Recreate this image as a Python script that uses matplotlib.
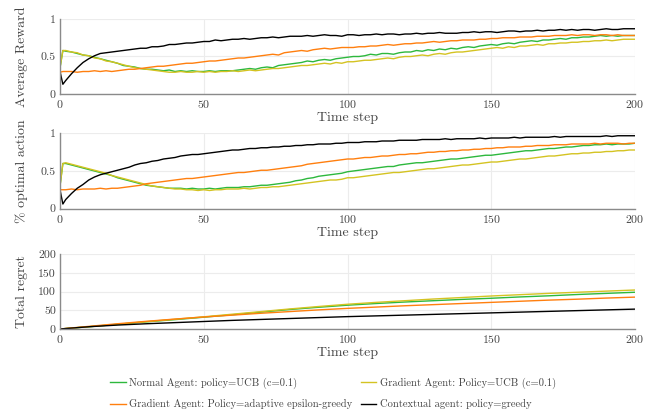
"""
plot.py
=======

Bandit agents over 200 time steps: average reward, fraction of optimal
actions and cumulative regret, one panel each, shared legend underneath.

Output: out.png (655x419)
"""

import matplotlib
matplotlib.use("Agg")
import matplotlib.pyplot as plt


# Time axis: first step kept, then every second step
TIME = [0, 1] + list(range(2, 201, 2))

# ---------------------------------------------------------------------------
# Panel 1 — average reward
# ---------------------------------------------------------------------------
REWARD_NORMAL_UCB = [
    0.35, 0.58,
    0.57, 0.56, 0.54, 0.52, 0.51, 0.49, 0.47, 0.45, 0.43, 0.41,
    0.38, 0.37, 0.36, 0.34, 0.33, 0.33, 0.32, 0.31, 0.32, 0.30,
    0.31, 0.30, 0.31, 0.30, 0.30, 0.31, 0.30, 0.31, 0.31, 0.31,
    0.32, 0.33, 0.34, 0.33, 0.35, 0.36, 0.35, 0.38, 0.39, 0.40,
    0.41, 0.42, 0.44, 0.43, 0.45, 0.46, 0.45, 0.47, 0.48, 0.49,
    0.50, 0.50, 0.51, 0.53, 0.52, 0.54, 0.54, 0.53, 0.55, 0.56,
    0.56, 0.58, 0.57, 0.59, 0.58, 0.60, 0.59, 0.61, 0.60, 0.62,
    0.63, 0.62, 0.64, 0.65, 0.66, 0.65, 0.67, 0.68, 0.67, 0.69,
    0.70, 0.71, 0.70, 0.72, 0.72, 0.73, 0.74, 0.73, 0.75, 0.75,
    0.76, 0.76, 0.77, 0.78, 0.77, 0.78, 0.77, 0.78, 0.78, 0.78,
]
REWARD_GRADIENT_UCB = [
    0.35, 0.58,
    0.58, 0.56, 0.55, 0.52, 0.51, 0.48, 0.47, 0.44, 0.43, 0.41,
    0.39, 0.37, 0.35, 0.34, 0.33, 0.32, 0.31, 0.30, 0.29, 0.29,
    0.30, 0.29, 0.29, 0.30, 0.29, 0.30, 0.29, 0.30, 0.30, 0.31,
    0.30, 0.31, 0.32, 0.31, 0.32, 0.33, 0.34, 0.34, 0.35, 0.36,
    0.37, 0.38, 0.38, 0.39, 0.40, 0.41, 0.40, 0.42, 0.41, 0.43,
    0.43, 0.44, 0.45, 0.45, 0.46, 0.47, 0.48, 0.47, 0.49, 0.50,
    0.50, 0.51, 0.52, 0.51, 0.53, 0.54, 0.53, 0.55, 0.56, 0.56,
    0.57, 0.58, 0.59, 0.60, 0.61, 0.62, 0.61, 0.63, 0.62, 0.64,
    0.64, 0.65, 0.66, 0.65, 0.67, 0.67, 0.68, 0.68, 0.69, 0.69,
    0.70, 0.70, 0.71, 0.71, 0.72, 0.71, 0.72, 0.73, 0.73, 0.73,
]
REWARD_GRADIENT_ADAPTIVE = [
    0.29, 0.30,
    0.30, 0.30, 0.29, 0.30, 0.30, 0.31, 0.30, 0.31, 0.30, 0.31,
    0.32, 0.33, 0.33, 0.34, 0.35, 0.36, 0.37, 0.37, 0.38, 0.39,
    0.40, 0.41, 0.41, 0.42, 0.43, 0.44, 0.44, 0.45, 0.46, 0.47,
    0.48, 0.48, 0.49, 0.50, 0.51, 0.52, 0.53, 0.52, 0.55, 0.56,
    0.57, 0.58, 0.57, 0.59, 0.60, 0.61, 0.60, 0.61, 0.62, 0.62,
    0.62, 0.63, 0.63, 0.64, 0.64, 0.65, 0.66, 0.65, 0.66, 0.67,
    0.67, 0.68, 0.68, 0.69, 0.70, 0.69, 0.70, 0.71, 0.71, 0.72,
    0.72, 0.72, 0.73, 0.73, 0.74, 0.74, 0.75, 0.75, 0.75, 0.76,
    0.76, 0.76, 0.77, 0.77, 0.77, 0.78, 0.78, 0.78, 0.79, 0.78,
    0.79, 0.79, 0.78, 0.79, 0.79, 0.78, 0.79, 0.78, 0.78, 0.78,
]
REWARD_CONTEXTUAL = [
    0.30, 0.13,
    0.18, 0.27, 0.35, 0.42, 0.47, 0.51, 0.54, 0.55, 0.56, 0.57,
    0.58, 0.59, 0.60, 0.61, 0.61, 0.63, 0.63, 0.64, 0.66, 0.66,
    0.67, 0.68, 0.68, 0.69, 0.70, 0.70, 0.72, 0.71, 0.72, 0.73,
    0.73, 0.74, 0.73, 0.74, 0.75, 0.75, 0.76, 0.75, 0.76, 0.77,
    0.77, 0.77, 0.78, 0.77, 0.78, 0.79, 0.78, 0.78, 0.77, 0.79,
    0.79, 0.78, 0.79, 0.79, 0.80, 0.79, 0.80, 0.80, 0.79, 0.80,
    0.80, 0.81, 0.80, 0.81, 0.81, 0.82, 0.81, 0.81, 0.81, 0.82,
    0.82, 0.83, 0.82, 0.83, 0.83, 0.82, 0.83, 0.84, 0.84, 0.83,
    0.84, 0.84, 0.85, 0.84, 0.85, 0.85, 0.86, 0.85, 0.86, 0.85,
    0.86, 0.86, 0.85, 0.86, 0.87, 0.86, 0.86, 0.87, 0.87, 0.87,
]

# ---------------------------------------------------------------------------
# Panel 2 — fraction of optimal actions
# ---------------------------------------------------------------------------
OPTIMAL_NORMAL_UCB = [
    0.30, 0.60,
    0.60, 0.58, 0.56, 0.54, 0.52, 0.50, 0.48, 0.46, 0.44, 0.41,
    0.39, 0.37, 0.35, 0.33, 0.31, 0.30, 0.29, 0.28, 0.27, 0.27,
    0.27, 0.26, 0.27, 0.26, 0.26, 0.27, 0.26, 0.27, 0.28, 0.28,
    0.28, 0.29, 0.29, 0.30, 0.31, 0.31, 0.32, 0.33, 0.34, 0.35,
    0.37, 0.38, 0.40, 0.41, 0.43, 0.44, 0.45, 0.46, 0.47, 0.49,
    0.50, 0.51, 0.52, 0.53, 0.54, 0.55, 0.56, 0.56, 0.58, 0.59,
    0.60, 0.61, 0.61, 0.62, 0.63, 0.64, 0.65, 0.66, 0.66, 0.67,
    0.68, 0.69, 0.70, 0.71, 0.71, 0.72, 0.73, 0.74, 0.75, 0.76,
    0.77, 0.77, 0.78, 0.79, 0.80, 0.80, 0.81, 0.82, 0.82, 0.83,
    0.84, 0.84, 0.85, 0.85, 0.86, 0.85, 0.86, 0.86, 0.86, 0.87,
]
OPTIMAL_GRADIENT_UCB = [
    0.30, 0.60,
    0.61, 0.59, 0.57, 0.55, 0.53, 0.51, 0.49, 0.47, 0.44, 0.42,
    0.40, 0.38, 0.36, 0.34, 0.32, 0.30, 0.29, 0.28, 0.27, 0.26,
    0.26, 0.25, 0.25, 0.24, 0.25, 0.24, 0.25, 0.25, 0.26, 0.26,
    0.26, 0.27, 0.26, 0.27, 0.28, 0.28, 0.29, 0.29, 0.30, 0.31,
    0.32, 0.33, 0.34, 0.35, 0.36, 0.37, 0.38, 0.38, 0.39, 0.41,
    0.41, 0.42, 0.43, 0.44, 0.45, 0.46, 0.47, 0.48, 0.48, 0.49,
    0.50, 0.51, 0.52, 0.53, 0.53, 0.54, 0.55, 0.56, 0.57, 0.58,
    0.58, 0.59, 0.60, 0.61, 0.62, 0.62, 0.63, 0.64, 0.65, 0.66,
    0.66, 0.67, 0.68, 0.69, 0.70, 0.70, 0.71, 0.72, 0.73, 0.73,
    0.74, 0.74, 0.75, 0.75, 0.76, 0.76, 0.77, 0.77, 0.78, 0.78,
]
OPTIMAL_GRADIENT_ADAPTIVE = [
    0.25, 0.25,
    0.25, 0.26, 0.25, 0.26, 0.26, 0.26, 0.27, 0.26, 0.27, 0.27,
    0.28, 0.29, 0.30, 0.31, 0.33, 0.34, 0.35, 0.36, 0.37, 0.38,
    0.39, 0.40, 0.40, 0.41, 0.42, 0.43, 0.44, 0.45, 0.46, 0.47,
    0.48, 0.48, 0.49, 0.50, 0.51, 0.51, 0.52, 0.53, 0.54, 0.55,
    0.56, 0.57, 0.59, 0.60, 0.61, 0.62, 0.63, 0.64, 0.65, 0.66,
    0.66, 0.67, 0.68, 0.68, 0.69, 0.70, 0.70, 0.71, 0.72, 0.72,
    0.73, 0.73, 0.74, 0.75, 0.75, 0.76, 0.76, 0.77, 0.77, 0.78,
    0.78, 0.79, 0.79, 0.80, 0.80, 0.81, 0.81, 0.82, 0.82, 0.82,
    0.83, 0.83, 0.84, 0.84, 0.84, 0.85, 0.85, 0.85, 0.86, 0.86,
    0.86, 0.86, 0.87, 0.86, 0.87, 0.87, 0.87, 0.86, 0.87, 0.87,
]
OPTIMAL_CONTEXTUAL = [
    0.25, 0.06,
    0.12, 0.20, 0.27, 0.32, 0.38, 0.42, 0.45, 0.47, 0.49, 0.51,
    0.53, 0.55, 0.58, 0.60, 0.61, 0.63, 0.64, 0.66, 0.67, 0.68,
    0.70, 0.71, 0.72, 0.72, 0.73, 0.74, 0.75, 0.76, 0.77, 0.78,
    0.78, 0.79, 0.80, 0.80, 0.81, 0.81, 0.82, 0.82, 0.83, 0.83,
    0.84, 0.84, 0.85, 0.85, 0.86, 0.86, 0.86, 0.87, 0.87, 0.88,
    0.88, 0.88, 0.89, 0.89, 0.89, 0.90, 0.90, 0.90, 0.91, 0.91,
    0.91, 0.91, 0.92, 0.92, 0.92, 0.92, 0.93, 0.92, 0.93, 0.93,
    0.93, 0.93, 0.94, 0.93, 0.94, 0.94, 0.94, 0.94, 0.95, 0.94,
    0.95, 0.95, 0.95, 0.95, 0.95, 0.96, 0.95, 0.96, 0.96, 0.96,
    0.96, 0.96, 0.96, 0.96, 0.97, 0.96, 0.97, 0.97, 0.97, 0.97,
]

# ---------------------------------------------------------------------------
# Panel 3 — cumulative regret, read every 10 steps
# ---------------------------------------------------------------------------
REGRET_TIME = list(range(0, 201, 10))
REGRET_NORMAL_UCB = [0, 6, 12.5, 19, 25, 31.5, 38, 45, 52, 58, 63.5,
                     68, 72, 75.5, 79, 82, 85.5, 88.5, 92, 95, 98]
REGRET_GRADIENT_UCB = [0, 6, 12.5, 19.5, 26, 32.5, 39.5, 46.5, 53.5, 60, 66,
                       71, 75.5, 80, 84, 88, 91.5, 95, 98, 101, 104]
REGRET_GRADIENT_ADAPTIVE = [0, 7, 14, 20.5, 26.5, 32, 37, 42, 46.5, 51, 55,
                            58.5, 62, 65, 68, 71, 74, 77, 79.5, 82.5, 85]
REGRET_CONTEXTUAL = [0, 6, 10.5, 14, 17, 20, 23, 25.5, 28, 30.5, 33,
                     35, 37, 39, 41, 43, 45, 47, 49, 51, 53]

LABELS = [
    "Normal Agent: policy=UCB (c=0.1)",
    "Gradient Agent: Policy=adaptive epsilon-greedy",
    "Gradient Agent: Policy=UCB (c=0.1)",
    "Contextual agent: policy=greedy",
]
COLORS = ["#2db83d", "#ff7f0e", "#d4c322", "#000000"]

TEXT = "#444444"


def style_axis(ax, ylabel, ylim, yticks, yticklabels):
    ax.set_xlim(0, 200)
    ax.set_ylim(*ylim)
    ax.set_xticks([0, 50, 100, 150, 200])
    ax.set_yticks(yticks)
    ax.set_yticklabels(yticklabels)
    ax.tick_params(length=0, labelsize=8.5, labelcolor=TEXT, pad=3)
    for side in ("top", "right"):
        ax.spines[side].set_visible(False)
    for side in ("left", "bottom"):
        ax.spines[side].set_color("#8a8a8a")
        ax.spines[side].set_linewidth(1.0)
    ax.grid(color="#ececec", lw=0.8)
    ax.set_axisbelow(True)
    ax.set_xlabel("Time step", fontsize=10, color=TEXT)
    ax.set_ylabel(ylabel, fontsize=10, color=TEXT)
    ax.xaxis.set_label_coords(0.5, -0.24)
    ax.yaxis.set_label_coords(-0.055, 0.5)


def main():
    plt.rcParams["font.family"] = ["cmr10", "DejaVu Serif"]
    plt.rcParams["axes.unicode_minus"] = False
    plt.rcParams["axes.formatter.use_mathtext"] = True

    fig = plt.figure(figsize=(6.55, 4.19), dpi=100)
    left, width = 60 / 655, 575 / 655
    ax1 = fig.add_axes([left, 1 - 94 / 419, width, 75 / 419])
    ax2 = fig.add_axes([left, 1 - 208.5 / 419, width, 75 / 419])
    ax3 = fig.add_axes([left, 1 - 329 / 419, width, 75 / 419])

    rewards = [REWARD_NORMAL_UCB, REWARD_GRADIENT_ADAPTIVE,
               REWARD_GRADIENT_UCB, REWARD_CONTEXTUAL]
    optimal = [OPTIMAL_NORMAL_UCB, OPTIMAL_GRADIENT_ADAPTIVE,
               OPTIMAL_GRADIENT_UCB, OPTIMAL_CONTEXTUAL]
    regret = [REGRET_NORMAL_UCB, REGRET_GRADIENT_ADAPTIVE,
              REGRET_GRADIENT_UCB, REGRET_CONTEXTUAL]

    # draw in plotly trace order: yellow over green, black on top
    order = [0, 2, 1, 3]
    for i in order:
        ax1.plot(TIME, rewards[i], color=COLORS[i], lw=1.0, label=LABELS[i])
        ax2.plot(TIME, optimal[i], color=COLORS[i], lw=1.0)
        ax3.plot(REGRET_TIME, regret[i], color=COLORS[i], lw=1.0)

    style_axis(ax1, "Average Reward", (0, 1), [0, 0.5, 1], ["0", "0.5", "1"])
    style_axis(ax2, "% optimal action", (0, 1), [0, 0.5, 1], ["0", "0.5", "1"])
    style_axis(ax3, "Total regret", (0, 200), [0, 50, 100, 150, 200],
               ["0", "50", "100", "150", "200"])

    handles, labels = ax1.get_legend_handles_labels()
    by_label = dict(zip(labels, handles))
    fig.legend([by_label[l] for l in LABELS], LABELS, ncol=2,
               loc="upper left", bbox_to_anchor=(110 / 655, 1 - 378 / 419),
               frameon=False, fontsize=7.6, handlelength=1.5,
               handletextpad=0.3, columnspacing=0.8, labelspacing=0.95,
               borderpad=0, borderaxespad=0, labelcolor=TEXT)

    fig.savefig("out.png", dpi=100)
    plt.close(fig)


if __name__ == "__main__":
    main()
